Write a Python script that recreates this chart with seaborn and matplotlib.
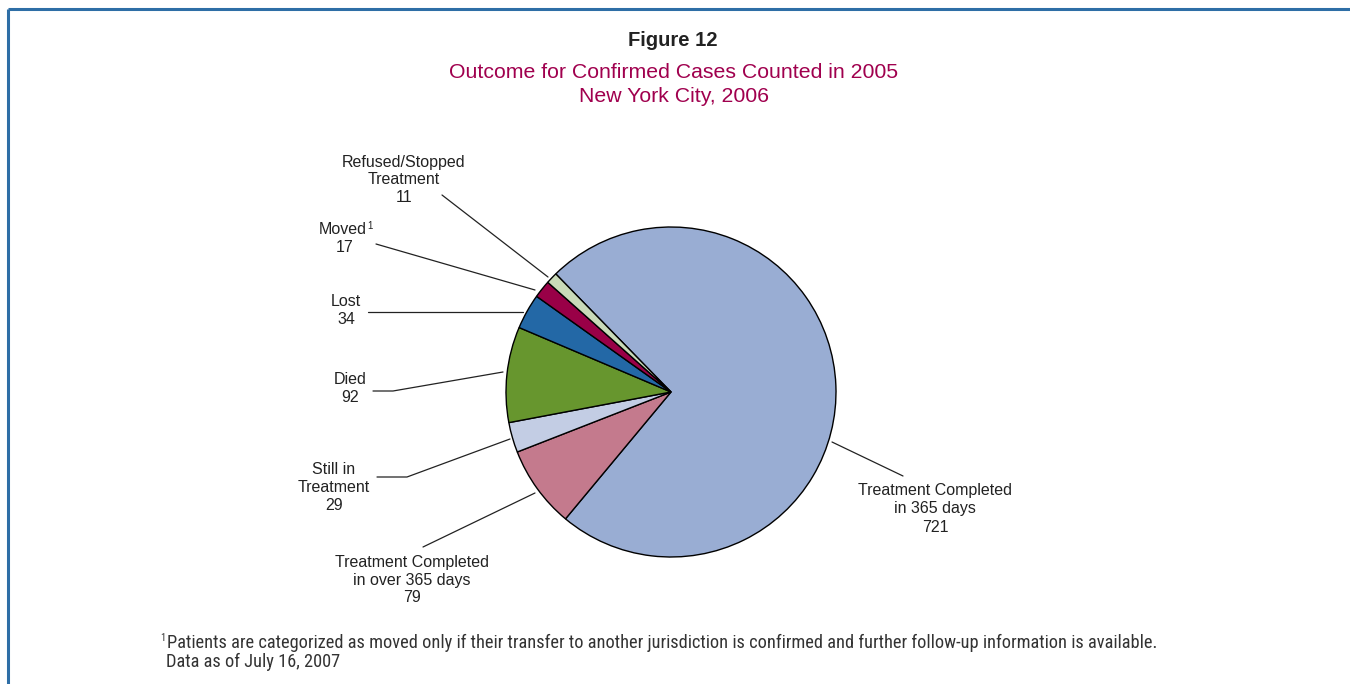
import matplotlib
matplotlib.use("Agg")
import matplotlib.pyplot as plt
import seaborn as sns

# Outcome categories, in clockwise order starting from the large slice
categories = [
    "Treatment Completed\nin 365 days",
    "Treatment Completed\nin over 365 days",
    "Still in\nTreatment",
    "Died",
    "Lost",
    "Moved\u00b9",
    "Refused/Stopped\nTreatment",
]
counts = [721, 79, 29, 92, 34, 17, 11]
slice_colors = ["#99ADD3", "#C47A8D", "#C3CDE4", "#67962E", "#2368A6", "#990047", "#C9DAB8"]

title_main = "Figure 12"
title_sub = "Outcome for Confirmed Cases Counted in 2005\nNew York City, 2006"
footnote_1 = "Patients are categorized as moved only if their transfer to another jurisdiction is confirmed and further follow-up information is available."
footnote_2 = "Data as of July 16, 2007"

sns.set_theme(style="white")
plt.rcParams["font.family"] = ["Liberation Sans", "DejaVu Sans"]

W, H = 1350, 684
fig = plt.figure(figsize=(W / 100, H / 100), dpi=100)
ax = fig.add_axes([0, 0, 1, 1])


def Y(y):
    # convert top-down pixel rows to axis units
    return H - y


cx, cy, r = 671, Y(392), 165
start = 134.3
ax.pie(
    counts,
    colors=slice_colors,
    startangle=start,
    counterclock=False,
    center=(cx, cy),
    radius=r,
    wedgeprops=dict(edgecolor="black", linewidth=1.0),
    frame=True,
)
ax.set_xlim(0, W)
ax.set_ylim(0, H)
ax.set_aspect("equal")
ax.axis("off")

# frame lines along the top and left edges
ax.plot([8, W], [Y(9), Y(9)], color="#2E6EA6", lw=2.2, solid_capstyle="butt")
ax.plot([8, 8], [Y(9), 0], color="#2E6EA6", lw=2.2, solid_capstyle="butt")

label_kw = dict(ha="center", va="center", fontsize=11.5, color="#222222")

# label text positions (center x, first line y) and leader polylines
label_specs = [
    (935, 491, [(832, 442), (903, 476)]),
    (412, 562, [(535, 493), (423, 547)]),
    (334, 469, [(510, 439), (407, 477), (377, 477)]),
    (350, 379, [(503, 372), (393, 391), (373, 391)]),
    (346, 301, [(523, 312), (368, 312)]),
    (345, 230, [(535, 290), (376, 244)]),
    (404, 162, [(548, 277), (442, 195)]),
]

for name, val, (tx, ty, pts) in zip(categories, counts, label_specs):
    lines = name.split("\n") + [str(val)]
    for i, line in enumerate(lines):
        if line.endswith("\u00b9"):
            ax.text(367, Y(ty + 18 * i), line[:-1], ha="right", va="center",
                    fontsize=11.5, color="#222222")
            ax.text(367, Y(ty + 18 * i) + 4, "1", ha="left", va="center",
                    fontsize=7, color="#222222")
        else:
            ax.text(tx, Y(ty + 18 * i), line, **label_kw)
    xs = [p[0] for p in pts]
    ys = [Y(p[1]) for p in pts]
    ax.plot(xs, ys, color="#222222", lw=0.9)

ax.text(673, Y(40), title_main, ha="center", va="center", fontsize=14.5,
        fontweight="bold", color="#222222")
ax.text(674, Y(73), title_sub.split("\n")[0], ha="center", va="center", fontsize=15.3,
        color="#A0004E")
ax.text(674, Y(97), title_sub.split("\n")[1], ha="center", va="center", fontsize=15.3,
        color="#A0004E")

foot_family = ["Liberation Sans Narrow", "Roboto Condensed", "Liberation Sans", "DejaVu Sans"]
foot_kw = dict(ha="left", va="center", fontsize=13.2, color="#333333", family=foot_family)
ax.text(160, Y(638), "1", ha="left", va="center", fontsize=7.5, color="#333333",
        family=foot_family)
ax.text(167, Y(643), footnote_1, **foot_kw)
ax.text(166, Y(662), footnote_2, **foot_kw)

fig.savefig("out.png", dpi=100, facecolor="white")
